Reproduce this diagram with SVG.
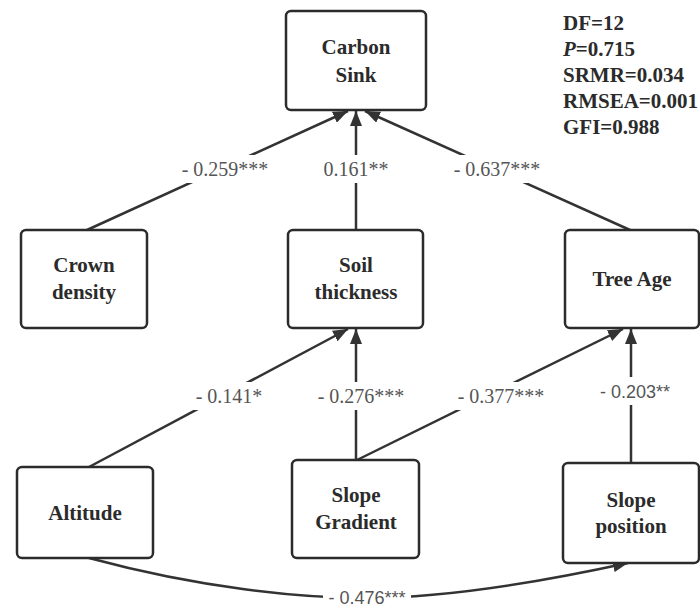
<svg xmlns="http://www.w3.org/2000/svg" width="700" height="608" viewBox="0 0 700 608">
<style>
.box{fill:#fff;stroke:#2b2b2b;stroke-width:2.5}
.nt{font-family:'Liberation Serif',serif;font-weight:bold;font-size:21px;fill:#2b2b2b;text-anchor:middle}
.st{font-family:'Liberation Serif',serif;font-weight:bold;font-size:21px;fill:#2b2b2b}
.edge{fill:none;stroke:#333;stroke-width:2.5}
.lbl{font-family:'Liberation Serif',serif;font-size:20px;fill:#555;text-anchor:middle}
.lbs{font-family:'Liberation Sans',sans-serif;font-size:18px;fill:#555;text-anchor:middle}
.bg{fill:#fff}
</style>
<defs>
<marker id="ah" markerUnits="userSpaceOnUse" markerWidth="16" markerHeight="12" refX="15" refY="6" orient="auto">
<path d="M0,0 L15,6 L0,12 z" fill="#333"/>
</marker>
</defs>
<rect width="700" height="608" fill="#fff"/>
<g id="connectors">
<line class="edge" x1="87" y1="230" x2="348" y2="111" marker-end="url(#ah)"/>
<line class="edge" x1="356" y1="230" x2="356" y2="111" marker-end="url(#ah)"/>
<line class="edge" x1="630" y1="230" x2="365" y2="111" marker-end="url(#ah)"/>
<line class="edge" x1="89" y1="467" x2="348" y2="329" marker-end="url(#ah)"/>
<line class="edge" x1="356" y1="460" x2="356" y2="329" marker-end="url(#ah)"/>
<line class="edge" x1="357" y1="460" x2="623" y2="329" marker-end="url(#ah)"/>
<line class="edge" x1="631" y1="463" x2="631" y2="329" marker-end="url(#ah)"/>
<path class="edge" d="M 89 558 C 200 588, 300 598, 366 598 C 450 598, 550 580, 628 563" marker-end="url(#ah)"/>
<rect class="bg" x="172" y="155" width="106" height="28"/>
<text class="lbl" x="225" y="176">- 0.259***</text>
<rect class="bg" x="316" y="155" width="80" height="28"/>
<text class="lbl" x="356" y="176">0.161**</text>
<rect class="bg" x="444" y="155" width="106" height="28"/>
<text class="lbl" x="497" y="176">- 0.637***</text>
<rect class="bg" x="186" y="382" width="86" height="28"/>
<text class="lbl" x="229" y="403">- 0.141*</text>
<rect class="bg" x="308" y="382" width="106" height="28"/>
<text class="lbl" x="361" y="403">- 0.276***</text>
<rect class="bg" x="450" y="382" width="102" height="28"/>
<text class="lbl" x="501" y="403">- 0.377***</text>
<rect class="bg" x="594" y="377" width="82" height="28"/>
<text class="lbs" x="635" y="398">- 0.203**</text>
<rect class="bg" x="323" y="586" width="88" height="22"/>
<text class="lbs" x="367" y="604">- 0.476***</text>
</g>
<g id="carbon-sink">
<rect class="box" x="286" y="11" width="140" height="99" rx="5"/>
<text class="nt" x="356" y="54">Carbon</text>
<text class="nt" x="356" y="82">Sink</text>
</g>
<g id="crown-density">
<rect class="box" x="21" y="230" width="126" height="98" rx="5"/>
<text class="nt" x="84" y="272">Crown</text>
<text class="nt" x="84" y="299">density</text>
</g>
<g id="soil-thickness">
<rect class="box" x="288" y="230" width="135" height="98" rx="5"/>
<text class="nt" x="356" y="272">Soil</text>
<text class="nt" x="356" y="299">thickness</text>
</g>
<g id="tree-age">
<rect class="box" x="565" y="230" width="134" height="98" rx="5"/>
<text class="nt" x="632" y="286">Tree Age</text>
</g>
<g id="altitude">
<rect class="box" x="17" y="467" width="136" height="91" rx="5"/>
<text class="nt" x="85" y="520">Altitude</text>
</g>
<g id="slope-gradient">
<rect class="box" x="292" y="460" width="127" height="98" rx="5"/>
<text class="nt" x="356" y="502">Slope</text>
<text class="nt" x="356" y="529">Gradient</text>
</g>
<g id="slope-position">
<rect class="box" x="563" y="463" width="136" height="100" rx="5"/>
<text class="nt" x="631" y="507">Slope</text>
<text class="nt" x="631" y="533">position</text>
</g>
<g id="fit-stats">
<text class="st" x="563" y="30">DF=12</text>
<text class="st" x="563" y="56"><tspan font-style="italic">P</tspan>=0.715</text>
<text class="st" x="563" y="82">SRMR=0.034</text>
<text class="st" x="563" y="108">RMSEA=0.001</text>
<text class="st" x="563" y="134">GFI=0.988</text>
</g>
</svg>
